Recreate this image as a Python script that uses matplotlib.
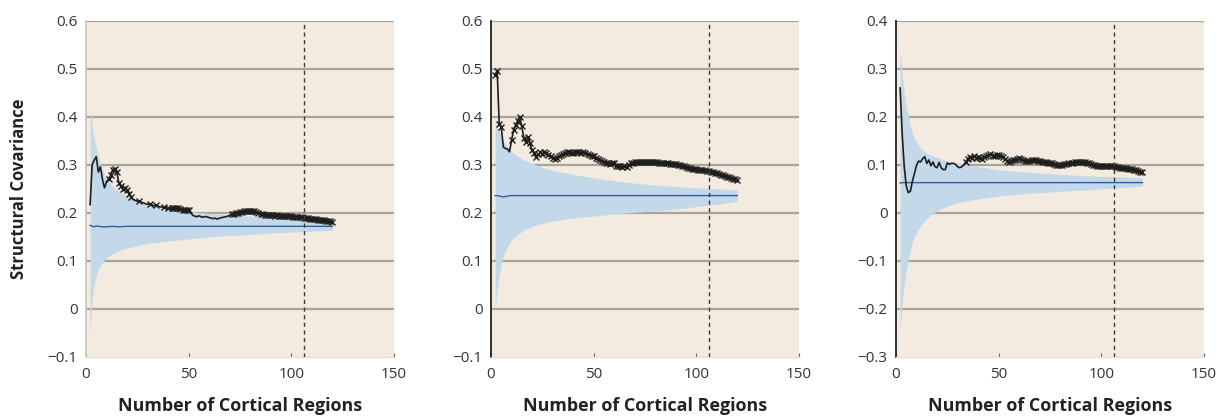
import matplotlib
matplotlib.use("Agg")
import matplotlib.pyplot as plt
import numpy as np

# ---------------- data ----------------
x_regions = list(range(2, 121))

observed_1 = [0.217, 0.300, 0.310, 0.317, 0.285, 0.296, 0.270, 0.252, 0.265, 0.270,
              0.278, 0.290, 0.292, 0.285, 0.262, 0.255, 0.250, 0.252, 0.248, 0.240,
              0.232, 0.228, 0.226, 0.224, 0.225, 0.222, 0.221, 0.219, 0.218, 0.219,
              0.217, 0.215, 0.216, 0.214, 0.213, 0.212, 0.212, 0.210, 0.211, 0.209,
              0.210, 0.211, 0.210, 0.211, 0.208, 0.207, 0.206, 0.205, 0.205, 0.200,
              0.195, 0.193, 0.192, 0.194, 0.192, 0.191, 0.192, 0.192, 0.190, 0.189,
              0.188, 0.189, 0.187, 0.189, 0.190, 0.191, 0.192, 0.193, 0.195, 0.197,
              0.198, 0.199, 0.200, 0.201, 0.202, 0.203, 0.203, 0.204, 0.204, 0.203,
              0.203, 0.202, 0.200, 0.198, 0.197, 0.196, 0.196, 0.195, 0.195, 0.195,
              0.194, 0.195, 0.194, 0.194, 0.193, 0.194, 0.193, 0.193, 0.193, 0.192,
              0.192, 0.192, 0.191, 0.191, 0.190, 0.190, 0.189, 0.188, 0.188, 0.187,
              0.187, 0.186, 0.186, 0.185, 0.185, 0.184, 0.184, 0.183, 0.182]

observed_2 = [0.487, 0.496, 0.386, 0.379, 0.337, 0.334, 0.333, 0.327, 0.351, 0.372,
              0.383, 0.392, 0.400, 0.380, 0.355, 0.347, 0.358, 0.345, 0.330, 0.325,
              0.317, 0.322, 0.326, 0.323, 0.327, 0.324, 0.320, 0.318, 0.314, 0.313,
              0.315, 0.318, 0.320, 0.322, 0.325, 0.326, 0.327, 0.325, 0.324, 0.326,
              0.326, 0.327, 0.325, 0.326, 0.324, 0.322, 0.321, 0.319, 0.318, 0.315,
              0.312, 0.310, 0.307, 0.305, 0.303, 0.303, 0.302, 0.303, 0.303, 0.298,
              0.297, 0.298, 0.296, 0.297, 0.296, 0.299, 0.303, 0.304, 0.305, 0.305,
              0.306, 0.305, 0.306, 0.306, 0.305, 0.306, 0.306, 0.305, 0.305, 0.305,
              0.304, 0.304, 0.303, 0.303, 0.303, 0.302, 0.302, 0.302, 0.301, 0.300,
              0.299, 0.298, 0.298, 0.295, 0.294, 0.293, 0.292, 0.292, 0.291, 0.290,
              0.290, 0.289, 0.289, 0.288, 0.287, 0.286, 0.285, 0.283, 0.282, 0.280,
              0.279, 0.278, 0.276, 0.275, 0.274, 0.272, 0.271, 0.270, 0.269]

observed_3 = [0.260, 0.166, 0.097, 0.056, 0.042, 0.045, 0.066, 0.082, 0.099, 0.108,
              0.106, 0.113, 0.117, 0.103, 0.110, 0.098, 0.106, 0.096, 0.094, 0.105,
              0.094, 0.090, 0.090, 0.104, 0.101, 0.103, 0.103, 0.101, 0.096, 0.094,
              0.096, 0.100, 0.106, 0.113, 0.117, 0.115, 0.118, 0.114, 0.117, 0.115,
              0.112, 0.116, 0.118, 0.120, 0.122, 0.119, 0.118, 0.121, 0.120, 0.118,
              0.116, 0.112, 0.109, 0.106, 0.108, 0.110, 0.110, 0.112, 0.114, 0.113,
              0.110, 0.109, 0.108, 0.109, 0.110, 0.111, 0.110, 0.108, 0.107, 0.106,
              0.106, 0.105, 0.104, 0.103, 0.103, 0.102, 0.100, 0.099, 0.099, 0.100,
              0.101, 0.102, 0.103, 0.103, 0.104, 0.105, 0.106, 0.106, 0.106, 0.105,
              0.105, 0.104, 0.104, 0.102, 0.100, 0.099, 0.098, 0.098, 0.098, 0.098,
              0.097, 0.098, 0.098, 0.097, 0.097, 0.096, 0.095, 0.094, 0.094, 0.093,
              0.093, 0.092, 0.092, 0.091, 0.090, 0.089, 0.088, 0.086, 0.085]

band_x = [2, 3, 4, 5, 6, 8, 10, 13, 16, 20, 25, 30, 40, 50, 60, 70, 80, 90, 100, 110, 120]

null_mean_1 = [0.174, 0.172, 0.171, 0.173, 0.172, 0.171, 0.171, 0.172, 0.171, 0.172, 0.172,
               0.172, 0.172, 0.172, 0.172, 0.172, 0.172, 0.172, 0.172, 0.172, 0.172]
null_upper_1 = [0.420, 0.380, 0.355, 0.335, 0.320, 0.290, 0.270, 0.255, 0.245, 0.235, 0.226,
                0.219, 0.210, 0.203, 0.199, 0.1955, 0.193, 0.190, 0.188, 0.185, 0.181]
null_lower_1 = [-0.060, 0.020, 0.050, 0.070, 0.083, 0.097, 0.106, 0.115, 0.121, 0.127, 0.132,
                0.136, 0.141, 0.146, 0.150, 0.153, 0.155, 0.158, 0.160, 0.162, 0.164]

null_mean_2 = [0.236, 0.236, 0.235, 0.234, 0.233, 0.235, 0.236, 0.236, 0.236, 0.236, 0.236,
               0.236, 0.236, 0.236, 0.236, 0.236, 0.236, 0.236, 0.236, 0.236, 0.236]
null_upper_2 = [0.390, 0.380, 0.370, 0.360, 0.350, 0.338, 0.327, 0.318, 0.310, 0.303, 0.295,
                0.289, 0.280, 0.273, 0.267, 0.262, 0.258, 0.255, 0.252, 0.250, 0.248]
null_lower_2 = [0.000, 0.040, 0.070, 0.095, 0.110, 0.130, 0.144, 0.155, 0.164, 0.172, 0.178,
                0.183, 0.189, 0.193, 0.198, 0.201, 0.204, 0.208, 0.213, 0.218, 0.224]

null_mean_3 = [0.062, 0.063, 0.063, 0.063, 0.063, 0.063, 0.063, 0.063, 0.063, 0.063, 0.063,
               0.063, 0.063, 0.063, 0.063, 0.063, 0.063, 0.063, 0.063, 0.063, 0.063]
null_upper_3 = [0.340, 0.290, 0.250, 0.220, 0.200, 0.165, 0.145, 0.130, 0.122, 0.115, 0.108,
                0.104, 0.096, 0.090, 0.086, 0.083, 0.080, 0.078, 0.076, 0.075, 0.073]
null_lower_3 = [-0.250, -0.190, -0.150, -0.120, -0.095, -0.060, -0.040, -0.020, -0.008, 0.004,
                0.014, 0.021, 0.029, 0.035, 0.039, 0.042, 0.045, 0.047, 0.050, 0.053, 0.056]

cutoff_x = 106

y_ticks_1 = [-0.1, 0, 0.1, 0.2, 0.3, 0.4, 0.5, 0.6]
y_ticks_2 = [-0.1, 0, 0.1, 0.2, 0.3, 0.4, 0.5, 0.6]
y_ticks_3 = [-0.3, -0.2, -0.1, 0, 0.1, 0.2, 0.3, 0.4]
x_ticks = [0, 50, 100, 150]

x_label = "Number of Cortical Regions"
y_label = "Structural Covariance"

# ---------------- style ----------------
BG = "#f4ebe0"
GRID = "#aaa39c"
BAND = "#c3d9ea"
MEAN = "#2f5f9e"
LINE = "#1e1e1e"
TXT = "#333333"
FONT = "Open Sans"

plt.rcParams['font.family'] = [FONT, 'DejaVu Sans']

fig = plt.figure(figsize=(12.23, 4.17), dpi=100)
W, H = 1223, 417
lefts = [86, 491, 896]
width_px = 308
bottom_px = 357
top_px = 20.7

panels = [
    (observed_1, null_mean_1, null_upper_1, null_lower_1, y_ticks_1, '#cfc8c0'),
    (observed_2, null_mean_2, null_upper_2, null_lower_2, y_ticks_2, '#222222'),
    (observed_3, null_mean_3, null_upper_3, null_lower_3, y_ticks_3, '#222222'),
]


def fmt(v):
    if abs(v) < 1e-9:
        return "0"
    s = f"{abs(v):.1f}"
    return ("\u2212" + s) if v < 0 else s


for i, (obs, mean, up, lo, yt, lspine) in enumerate(panels):
    ax = fig.add_axes([lefts[i] / W, 1 - bottom_px / H, width_px / W, (bottom_px - top_px) / H])
    ax.set_facecolor(BG)
    ax.set_xlim(0, 150)
    ax.set_ylim(yt[0], yt[-1])
    for v in yt[1:]:
        ax.axhline(v, color=GRID, lw=1.6, zorder=1)
    ax.fill_between(band_x, lo, up, color=BAND, lw=0, zorder=2)
    ax.plot(band_x, mean, color=MEAN, lw=1.0, zorder=3)
    ax.plot(x_regions, obs, color=LINE, lw=1.2, zorder=4)
    xs = np.array(x_regions)
    ob = np.array(obs)
    sig = ob > np.interp(xs, band_x, up)
    ax.plot(xs[sig], ob[sig], ls='none', marker='x', ms=3.7, mew=1.0, color=LINE, zorder=5)
    ax.axvline(cutoff_x, color='#3a3a3a', lw=1.0, ls=(0, (3, 2.5)), zorder=6)

    for s in ['top', 'right']:
        ax.spines[s].set_visible(False)
    ax.spines['left'].set_color(lspine)
    ax.spines['left'].set_linewidth(1.3)
    ax.spines['bottom'].set_color('#e6ddd2')
    ax.spines['bottom'].set_linewidth(1.0)

    ax.set_xticks(x_ticks)
    ax.set_xticklabels([str(t) for t in x_ticks])
    ax.set_yticks(yt)
    ax.set_yticklabels([fmt(v) for v in yt])
    ax.tick_params(axis='x', direction='in', length=3, color='#666666', labelsize=11,
                   labelcolor=TXT, pad=7)
    ax.tick_params(axis='y', length=0, labelsize=11, labelcolor=TXT, pad=6)

    ax.set_xlabel(x_label, fontsize=12.9, fontweight='bold', color='#222222', labelpad=11)
    if i == 0:
        ax.set_ylabel(y_label, fontsize=12, fontweight='bold', color='#222222', labelpad=14)

fig.savefig("out.png", dpi=100, facecolor='white')
